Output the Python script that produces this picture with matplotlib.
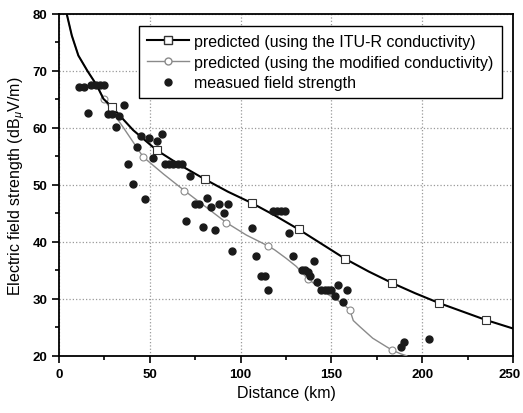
import matplotlib
matplotlib.use("Agg")
import matplotlib.pyplot as plt
import matplotlib.transforms as mtransforms
from matplotlib.lines import Line2D

# Predicted field strength using ITU-R conductivity
itu_km = [4.2, 7.0, 10.6, 15.6, 20.7, 24.4, 29.0, 40.8, 53.7, 66.5, 80.2, 93.0,
          106.2, 119.0, 131.9, 144.8, 157.7, 170.5, 183.3, 196.0, 209.0, 222.0,
          235.0, 250.0]
itu_db = [80.0, 76.2, 72.7, 70.0, 67.5, 65.1, 63.7, 59.6, 56.1, 53.5, 51.0, 48.8,
          46.8, 44.6, 42.2, 39.6, 37.0, 34.8, 32.8, 31.0, 29.3, 27.8, 26.3, 24.8]
itu_marks = [6, 8, 10, 12, 14, 16, 18, 20, 22]

# Predicted field strength using the modified conductivity
mod_km = [4.2, 7.0, 10.6, 15.6, 20.7, 24.7, 30.0, 35.5, 40.8, 46.3, 57.5, 69.0,
          80.5, 92.0, 103.1, 115.0, 118.7, 125.1, 130.6, 137.0, 142.5, 148.0,
          156.2, 160.2, 162.0, 165.7, 172.7, 180.3, 183.5, 187.8, 191.5]
mod_db = [80.0, 76.2, 72.7, 70.0, 67.5, 65.1, 62.5, 60.0, 57.5, 54.9, 51.9, 49.0,
          46.2, 43.4, 41.2, 39.3, 38.6, 37.1, 35.7, 33.5, 32.2, 30.8, 29.2, 28.0,
          26.2, 25.1, 23.1, 21.6, 21.0, 20.4, 20.0]
mod_marks = [5, 9, 11, 13, 15, 19, 23, 28]

# Measured field strength
meas_km = [11.2, 13.6, 16.0, 17.8, 20.2, 22.5, 24.8, 27.0, 29.2, 32.8, 31.4, 36.0,
           38.1, 40.6, 42.7, 44.9, 47.3, 49.5, 51.7, 54.0, 56.4, 58.2, 60.6, 63.0,
           65.4, 67.8, 70.0, 72.0, 74.7, 77.2, 79.0, 81.5, 83.7, 85.8, 88.3, 90.7,
           92.9, 95.0, 106.2, 108.2, 111.2, 113.4, 115.2, 117.8, 120.0, 122.2,
           124.4, 126.5, 128.9, 133.5, 135.3, 137.0, 138.0, 140.3, 142.3, 144.5,
           146.3, 148.2, 150.0, 152.0, 153.8, 156.2, 158.4, 188.3, 190.1, 203.8]
meas_db = [67.1, 67.1, 62.6, 67.6, 67.6, 67.6, 67.6, 62.5, 62.5, 62.1, 60.1, 64.1,
           53.6, 50.1, 56.7, 58.6, 47.6, 58.2, 54.7, 57.7, 59.0, 53.6, 53.6, 53.6,
           53.6, 53.6, 43.6, 51.6, 46.6, 46.6, 42.6, 47.7, 46.1, 42.0, 46.6, 45.0,
           46.6, 38.4, 42.5, 37.5, 34.1, 34.1, 31.5, 45.5, 45.5, 45.5,
           45.5, 41.5, 37.6, 35.1, 35.1, 34.8, 34.1, 36.6, 32.9, 31.5,
           31.5, 31.5, 31.5, 30.5, 32.5, 29.5, 31.5, 21.6, 22.5, 23.0]

labels = ["predicted (using the ITU-R conductivity)",
          "predicted (using the modified conductivity)",
          "measued field strength"]

plt.rcParams['font.family'] = ['Liberation Sans', 'DejaVu Sans']
plt.rcParams['mathtext.fontset'] = 'custom'
plt.rcParams['mathtext.rm'] = 'Liberation Sans'
plt.rcParams['mathtext.it'] = 'Liberation Sans:italic'

fig = plt.figure(figsize=(5.23, 4.14), dpi=100)
ax = fig.add_axes([0.113, 0.138, 0.868, 0.826])

gray = "#8a8a8a"
ax.plot(mod_km, mod_db, color=gray, lw=1.0, marker="o", markersize=5,
        markerfacecolor="white", markeredgecolor=gray, markeredgewidth=0.8,
        markevery=mod_marks, zorder=3)
ax.plot(itu_km, itu_db, color="black", lw=1.5, marker="s", markersize=6,
        markerfacecolor="white", markeredgecolor="#333333", markeredgewidth=0.8,
        markevery=itu_marks, zorder=4)
ax.plot(meas_km, meas_db, linestyle="none", marker="o", markersize=5,
        color="#1a1a1a", zorder=5)

ax.set_xlim(0, 250)
ax.set_ylim(20, 80)
ax.set_xticks([0, 50, 100, 150, 200, 250])
ax.set_xticks(range(25, 250, 50), minor=True)
ax.set_yticks([20, 30, 40, 50, 60, 70, 80])
ax.set_yticks(range(25, 80, 10), minor=True)
ax.tick_params(which="both", direction="out", width=1.2)
ax.tick_params(which="major", length=5, labelsize=9.5)
ax.tick_params(which="minor", length=3)
for lab in ax.get_xticklabels() + ax.get_yticklabels():
    lab.set_fontweight("bold")
# keep the last x label inside the canvas
last = ax.get_xticklabels()[-1]
last.set_transform(last.get_transform() +
                   mtransforms.ScaledTranslation(-4 / 100, 0, fig.dpi_scale_trans))
for s in ax.spines.values():
    s.set_linewidth(1.3)

ax.grid(True, which="major", linestyle=":", color="#999999", lw=0.9)
ax.set_axisbelow(True)

ax.set_xlabel("Distance (km)", fontsize=11.5, labelpad=4)
ax.set_ylabel(r"Electric field strength (dB$_{\mu}$V/m)", fontsize=11.5, labelpad=4)

handles = [
    Line2D([], [], color="black", lw=1.5, marker="s", markersize=6,
           markerfacecolor="white", markeredgecolor="#333333"),
    Line2D([], [], color=gray, lw=1.0, marker="o", markersize=5,
           markerfacecolor="white", markeredgecolor=gray),
    Line2D([], [], linestyle="none", marker="o", markersize=5, color="#1a1a1a"),
]
leg = ax.legend(handles, labels, loc="upper right", bbox_to_anchor=(0.982, 0.974),
                fontsize=11.5, frameon=True, fancybox=False, framealpha=1,
                edgecolor="black", handlelength=2.6, borderpad=0.5,
                labelspacing=0.35, handletextpad=0.35, borderaxespad=0.2)
leg.get_frame().set_linewidth(1.0)

fig.savefig("out.png", dpi=100)
